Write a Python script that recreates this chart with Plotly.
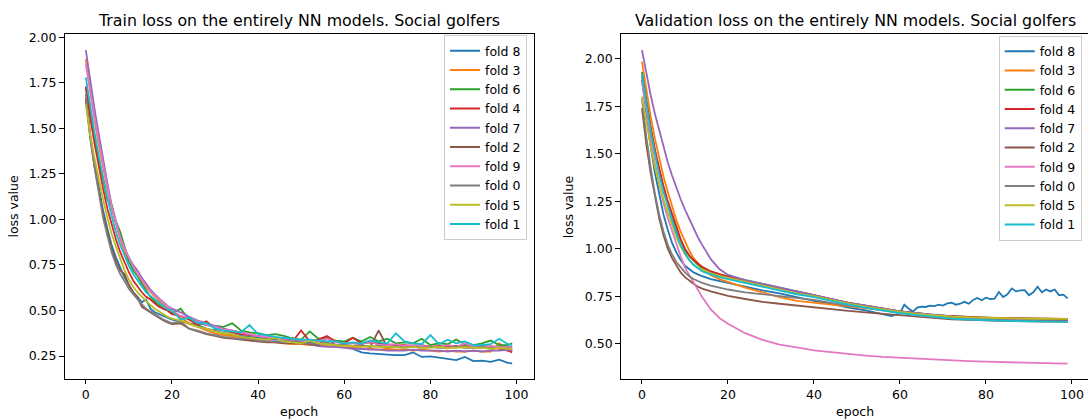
import plotly.graph_objects as go

# ---------------- data ----------------
folds = ["fold 8", "fold 3", "fold 6", "fold 4", "fold 7", "fold 2", "fold 9", "fold 0", "fold 5", "fold 1"]
colors = ["#1f77b4", "#ff7f0e", "#2ca02c", "#d62728", "#9467bd", "#8c564b", "#e377c2", "#7f7f7f", "#bcbd22", "#17becf"]

train_epochs = [0, 1, 2, 3, 4, 5, 6, 7, 8, 9, 10, 11, 12, 13, 14, 15, 16, 17, 18, 19, 20,
                22, 24, 26, 28, 30, 32, 34, 36, 38, 40, 42, 44, 46, 48, 50, 52, 54, 56, 58, 60,
                62, 64, 66, 68, 70, 72, 74, 76, 78, 80, 82, 84, 86, 88, 90, 92, 94, 96, 98, 99]

train_fold8 = [1.67, 1.47, 1.31, 1.17, 1.05, 0.95, 0.86, 0.79, 0.73, 0.68, 0.64, 0.60, 0.575, 0.545, 0.56, 0.51, 0.49, 0.48, 0.47, 0.46, 0.45,
               0.44, 0.43, 0.42, 0.40, 0.39, 0.375, 0.37, 0.36, 0.355, 0.35,
               0.345, 0.34, 0.34, 0.335, 0.33, 0.325, 0.32, 0.315, 0.31, 0.31,
               0.29, 0.27, 0.265, 0.26, 0.258, 0.255, 0.255, 0.27, 0.245, 0.248,
               0.24, 0.232, 0.228, 0.245, 0.222, 0.225, 0.218, 0.23, 0.212, 0.21]
train_fold3 = [1.88, 1.70, 1.55, 1.41, 1.28, 1.17, 1.06, 0.97, 0.89, 0.82, 0.77, 0.73, 0.69, 0.655, 0.625, 0.60, 0.575, 0.55, 0.53, 0.51, 0.50,
               0.46, 0.43, 0.41, 0.39, 0.375, 0.365, 0.36, 0.35, 0.345, 0.34,
               0.335, 0.325, 0.32, 0.315, 0.315, 0.31, 0.31, 0.305, 0.30, 0.30,
               0.295, 0.29, 0.29, 0.285, 0.29, 0.285, 0.285, 0.28, 0.285, 0.28,
               0.275, 0.28, 0.275, 0.275, 0.28, 0.275, 0.275, 0.32, 0.28, 0.275]
train_fold6 = [1.72, 1.58, 1.45, 1.33, 1.21, 1.11, 1.08, 0.99, 0.93, 0.85, 0.77, 0.72, 0.69, 0.645, 0.61, 0.575, 0.55, 0.53, 0.51, 0.50, 0.485,
               0.51, 0.45, 0.43, 0.42, 0.415, 0.41, 0.43, 0.39, 0.38, 0.375,
               0.365, 0.37, 0.36, 0.345, 0.34, 0.385, 0.345, 0.35, 0.335, 0.33,
               0.35, 0.33, 0.355, 0.33, 0.345, 0.32, 0.325, 0.32, 0.345, 0.31,
               0.32, 0.315, 0.34, 0.315, 0.31, 0.32, 0.335, 0.31, 0.31, 0.32]
train_fold4 = [1.73, 1.56, 1.42, 1.29, 1.17, 1.06, 0.97, 0.89, 0.82, 0.76, 0.71, 0.665, 0.63, 0.60, 0.575, 0.56, 0.54, 0.52, 0.51, 0.50, 0.48,
               0.47, 0.45, 0.42, 0.44, 0.40, 0.39, 0.38, 0.37, 0.365, 0.36,
               0.355, 0.35, 0.345, 0.33, 0.39, 0.33, 0.34, 0.36, 0.33, 0.32,
               0.35, 0.32, 0.325, 0.32, 0.315, 0.31, 0.31, 0.305, 0.31, 0.30,
               0.305, 0.30, 0.305, 0.30, 0.30, 0.295, 0.30, 0.29, 0.28, 0.27]
train_fold7 = [1.93, 1.76, 1.61, 1.47, 1.33, 1.20, 1.08, 0.98, 0.90, 0.84, 0.79, 0.75, 0.72, 0.68, 0.645, 0.615, 0.59, 0.565, 0.545, 0.525, 0.51,
               0.49, 0.465, 0.445, 0.43, 0.415, 0.40, 0.39, 0.38, 0.37, 0.36,
               0.35, 0.345, 0.34, 0.335, 0.325, 0.315, 0.305, 0.30, 0.30, 0.295,
               0.29, 0.29, 0.285, 0.285, 0.28, 0.28, 0.28, 0.285, 0.28, 0.28,
               0.28, 0.275, 0.28, 0.275, 0.28, 0.275, 0.28, 0.28, 0.285, 0.28]
train_fold2 = [1.66, 1.45, 1.29, 1.15, 1.03, 0.93, 0.84, 0.77, 0.72, 0.70, 0.64, 0.60, 0.57, 0.52, 0.505, 0.49, 0.475, 0.46, 0.445, 0.435, 0.425,
               0.43, 0.40, 0.385, 0.37, 0.36, 0.35, 0.345, 0.34, 0.335, 0.33,
               0.325, 0.325, 0.32, 0.32, 0.32, 0.315, 0.31, 0.35, 0.31, 0.31,
               0.305, 0.31, 0.30, 0.39, 0.30, 0.305, 0.30, 0.30, 0.30, 0.30,
               0.30, 0.31, 0.30, 0.305, 0.30, 0.31, 0.30, 0.30, 0.295, 0.30]
train_fold9 = [1.85, 1.70, 1.56, 1.43, 1.30, 1.18, 1.07, 0.98, 0.90, 0.84, 0.785, 0.74, 0.70, 0.665, 0.635, 0.605, 0.585, 0.56, 0.54, 0.52, 0.50,
               0.47, 0.46, 0.44, 0.42, 0.41, 0.395, 0.39, 0.38, 0.37, 0.36,
               0.355, 0.35, 0.345, 0.34, 0.335, 0.33, 0.33, 0.345, 0.325, 0.32,
               0.32, 0.315, 0.33, 0.31, 0.31, 0.315, 0.305, 0.31, 0.305, 0.30,
               0.30, 0.31, 0.30, 0.32, 0.30, 0.30, 0.305, 0.30, 0.30, 0.30]
train_fold0 = [1.69, 1.46, 1.29, 1.14, 1.01, 0.91, 0.82, 0.75, 0.70, 0.66, 0.62, 0.59, 0.56, 0.535, 0.51, 0.495, 0.48, 0.465, 0.45, 0.44, 0.43,
               0.44, 0.40, 0.39, 0.375, 0.365, 0.355, 0.35, 0.345, 0.345, 0.335,
               0.33, 0.33, 0.325, 0.35, 0.32, 0.32, 0.315, 0.325, 0.31, 0.31,
               0.305, 0.31, 0.30, 0.305, 0.30, 0.30, 0.295, 0.30, 0.295, 0.30,
               0.295, 0.295, 0.30, 0.295, 0.295, 0.30, 0.29, 0.295, 0.29, 0.29]
train_fold5 = [1.63, 1.47, 1.34, 1.22, 1.11, 1.01, 0.92, 0.85, 0.78, 0.72, 0.67, 0.63, 0.60, 0.575, 0.55, 0.53, 0.51, 0.495, 0.48, 0.465, 0.455,
               0.445, 0.425, 0.41, 0.40, 0.385, 0.375, 0.37, 0.355, 0.35, 0.345,
               0.34, 0.35, 0.33, 0.325, 0.32, 0.335, 0.32, 0.315, 0.31, 0.305,
               0.305, 0.30, 0.305, 0.30, 0.30, 0.30, 0.295, 0.30, 0.295, 0.295,
               0.30, 0.295, 0.295, 0.30, 0.295, 0.295, 0.29, 0.295, 0.29, 0.29]
train_fold1 = [1.78, 1.62, 1.48, 1.35, 1.23, 1.12, 1.02, 0.93, 0.86, 0.80, 0.745, 0.70, 0.665, 0.63, 0.60, 0.58, 0.56, 0.54, 0.52, 0.505, 0.50,
               0.45, 0.46, 0.43, 0.43, 0.40, 0.39, 0.385, 0.38, 0.42, 0.37,
               0.365, 0.355, 0.35, 0.345, 0.34, 0.34, 0.335, 0.33, 0.33, 0.32,
               0.325, 0.32, 0.335, 0.325, 0.32, 0.375, 0.33, 0.32, 0.315, 0.365,
               0.315, 0.34, 0.32, 0.33, 0.31, 0.31, 0.315, 0.345, 0.315, 0.31]

val_epochs = [0, 1, 2, 3, 4, 5, 6, 7, 8, 9, 10, 11, 12, 13, 14, 16, 18, 20,
              24, 28, 32, 36, 40, 44, 48, 52, 56, 60, 64, 68, 72, 76, 80, 84, 88, 92, 96, 99]
val_epochs_fold8 = [0, 1, 2, 3, 4, 5, 6, 7, 8, 9, 10, 11, 12, 13, 14, 16, 18, 20,
                    24, 28, 32, 36, 40, 44, 48, 52, 56, 58, 60,
                    61, 62, 63, 64, 65, 66, 67, 68, 69, 70,
                    71, 72, 73, 74, 75, 76, 77, 78, 79, 80,
                    81, 82, 83, 84, 85, 86, 87, 88, 89, 90,
                    91, 92, 93, 94, 95, 96, 97, 98, 99]

val_fold8 = [1.89, 1.70, 1.54, 1.40, 1.28, 1.18, 1.10, 1.03, 0.98, 0.94, 0.91, 0.89, 0.875, 0.865, 0.855, 0.84, 0.83, 0.82,
             0.80, 0.78, 0.765, 0.745, 0.725, 0.71, 0.69, 0.675, 0.655, 0.645, 0.66,
             0.705, 0.685, 0.668, 0.69, 0.695, 0.693, 0.70, 0.698, 0.705, 0.70,
             0.712, 0.715, 0.705, 0.71, 0.72, 0.71, 0.73, 0.74, 0.728, 0.742,
             0.735, 0.737, 0.772, 0.745, 0.76, 0.79, 0.775, 0.78, 0.782, 0.755,
             0.77, 0.80, 0.77, 0.785, 0.775, 0.785, 0.755, 0.758, 0.738]
val_fold3 = [1.985, 1.83, 1.70, 1.58, 1.48, 1.38, 1.30, 1.22, 1.15, 1.09, 1.04, 0.99, 0.95, 0.92, 0.895, 0.86, 0.84, 0.825,
             0.795, 0.77, 0.745, 0.725, 0.715, 0.705, 0.695, 0.685, 0.675, 0.665, 0.655, 0.647, 0.64, 0.635, 0.632, 0.63, 0.628, 0.627, 0.626, 0.625]
val_fold6 = [1.93, 1.78, 1.64, 1.52, 1.41, 1.32, 1.24, 1.17, 1.10, 1.04, 0.99, 0.96, 0.935, 0.915, 0.90, 0.88, 0.865, 0.855,
             0.835, 0.815, 0.795, 0.775, 0.755, 0.735, 0.715, 0.70, 0.685, 0.67, 0.66, 0.65, 0.645, 0.64, 0.636, 0.633, 0.631, 0.63, 0.629, 0.628]
val_fold4 = [1.91, 1.77, 1.64, 1.52, 1.42, 1.33, 1.25, 1.18, 1.11, 1.05, 1.00, 0.965, 0.94, 0.92, 0.905, 0.88, 0.865, 0.852,
             0.83, 0.81, 0.79, 0.775, 0.755, 0.735, 0.715, 0.70, 0.685, 0.67, 0.66, 0.65, 0.645, 0.64, 0.637, 0.635, 0.633, 0.632, 0.632, 0.63]
val_fold7 = [2.045, 1.92, 1.81, 1.71, 1.62, 1.535, 1.455, 1.385, 1.32, 1.26, 1.205, 1.155, 1.105, 1.06, 1.02, 0.945, 0.893, 0.862,
             0.835, 0.815, 0.795, 0.775, 0.755, 0.735, 0.715, 0.70, 0.685, 0.67, 0.66, 0.65, 0.643, 0.637, 0.632, 0.628, 0.625, 0.623, 0.622, 0.62]
val_fold2 = [1.74, 1.55, 1.40, 1.27, 1.16, 1.07, 1.00, 0.95, 0.91, 0.875, 0.85, 0.83, 0.815, 0.80, 0.79, 0.775, 0.762, 0.752,
             0.735, 0.72, 0.71, 0.70, 0.69, 0.68, 0.672, 0.665, 0.658, 0.65, 0.643, 0.635, 0.628, 0.625, 0.622, 0.62, 0.619, 0.618, 0.617, 0.617]
val_fold9 = [1.88, 1.72, 1.58, 1.45, 1.34, 1.24, 1.16, 1.09, 1.02, 0.96, 0.90, 0.86, 0.82, 0.78, 0.745, 0.68, 0.635, 0.605,
             0.555, 0.52, 0.495, 0.48, 0.465, 0.455, 0.445, 0.437, 0.43, 0.425, 0.42, 0.415, 0.412, 0.408, 0.405, 0.402, 0.40, 0.398, 0.396, 0.395]
val_fold0 = [1.79, 1.59, 1.43, 1.29, 1.18, 1.09, 1.02, 0.97, 0.93, 0.90, 0.875, 0.855, 0.84, 0.83, 0.82, 0.805, 0.795, 0.785,
             0.77, 0.76, 0.75, 0.74, 0.73, 0.715, 0.70, 0.69, 0.675, 0.665, 0.65, 0.64, 0.633, 0.627, 0.623, 0.62, 0.618, 0.617, 0.616, 0.615]
val_fold5 = [1.80, 1.66, 1.54, 1.43, 1.34, 1.26, 1.19, 1.12, 1.06, 1.01, 0.97, 0.94, 0.915, 0.90, 0.89, 0.87, 0.857, 0.847,
             0.825, 0.805, 0.785, 0.765, 0.75, 0.73, 0.71, 0.695, 0.68, 0.667, 0.656, 0.648, 0.642, 0.638, 0.635, 0.633, 0.632, 0.631, 0.631, 0.63]
val_fold1 = [1.915, 1.76, 1.62, 1.50, 1.39, 1.30, 1.22, 1.15, 1.08, 1.02, 0.975, 0.94, 0.915, 0.895, 0.88, 0.865, 0.85, 0.84,
             0.82, 0.80, 0.78, 0.76, 0.745, 0.725, 0.705, 0.69, 0.675, 0.66, 0.65, 0.64, 0.632, 0.627, 0.623, 0.62, 0.618, 0.617, 0.616, 0.615]

y_ticks_train = [0.25, 0.50, 0.75, 1.00, 1.25, 1.50, 1.75, 2.00]
y_ticks_val = [0.50, 0.75, 1.00, 1.25, 1.50, 1.75, 2.00]
x_ticks = [0, 20, 40, 60, 80, 100]

train_series = [train_fold8, train_fold3, train_fold6, train_fold4, train_fold7,
                train_fold2, train_fold9, train_fold0, train_fold5, train_fold1]
val_series = [val_fold8, val_fold3, val_fold6, val_fold4, val_fold7,
              val_fold2, val_fold9, val_fold0, val_fold5, val_fold1]
val_x = [val_epochs_fold8] + [val_epochs] * 9

for s in train_series:
    assert len(s) == len(train_epochs), len(s)
for xs, s in zip(val_x, val_series):
    assert len(s) == len(xs), (len(s), len(xs))

# ---------------- figure ----------------
W, H = 1088, 420
FONT = "DejaVu Sans"
fig = go.Figure()

for name, col, ys in zip(folds, colors, train_series):
    fig.add_trace(go.Scatter(x=train_epochs, y=ys, mode="lines", name=name,
                             line=dict(color=col, width=1.8), xaxis="x", yaxis="y",
                             legend="legend"))
for name, col, xs, ys in zip(folds, colors, val_x, val_series):
    fig.add_trace(go.Scatter(x=xs, y=ys, mode="lines", name=name,
                             line=dict(color=col, width=1.8), xaxis="x2", yaxis="y2",
                             legend="legend2"))

def px_x(p):
    return p / W

def px_y(p):
    return 1 - p / H

top, bottom = 29.7, 378.3
L1, R1 = 64.5, 533.5
L2, R2 = 620.7, 1089.6

axis_common = dict(showgrid=False, zeroline=False, showline=True, linecolor="black", linewidth=1,
                   ticks="outside", ticklen=4.5, tickwidth=1, tickcolor="black",
                   tickfont=dict(family=FONT, size=12.5, color="black"))

legend_common = dict(xanchor="right", yanchor="top",
                     bgcolor="rgba(255,255,255,0.8)", bordercolor="#cccccc", borderwidth=1,
                     font=dict(family=FONT, size=12.5, color="black"))

fig.update_layout(
    width=W, height=H, margin=dict(l=0, r=0, t=0, b=0),
    paper_bgcolor="white", plot_bgcolor="white",
    font=dict(family=FONT, color="black"),
    xaxis=dict(domain=[px_x(L1), px_x(R1)], range=[-4.95, 103.95], anchor="y", mirror=True,
               tickvals=x_ticks, **axis_common),
    yaxis=dict(domain=[px_y(bottom), px_y(top)], range=[0.125, 2.016], anchor="x", mirror=True,
               tickvals=y_ticks_train, tickformat=".2f", **axis_common),
    xaxis2=dict(domain=[px_x(L2), 1.0], range=[-4.95, 103.73], anchor="y2", mirror=True,
                tickvals=x_ticks, **axis_common),
    yaxis2=dict(domain=[px_y(bottom), px_y(top)], range=[0.315, 2.128], anchor="x2", mirror=False,
                tickvals=y_ticks_val, tickformat=".2f", **axis_common),
    legend=dict(x=px_x(527), y=px_y(30.5), **legend_common),
    legend2=dict(x=px_x(1081.7), y=px_y(31), **legend_common),
    showlegend=True,
)

ann = []
ann.append(dict(text="Train loss on the entirely NN models. Social golfers", x=px_x((L1 + R1) / 2), y=px_y(15.5),
                xref="paper", yref="paper", xanchor="center", yanchor="middle", showarrow=False,
                font=dict(family=FONT, size=15.8, color="black")))
ann.append(dict(text="Validation loss on the entirely NN models. Social golfers", x=px_x((L2 + R2) / 2), y=px_y(15.5),
                xref="paper", yref="paper", xanchor="center", yanchor="middle", showarrow=False,
                font=dict(family=FONT, size=15.8, color="black")))
for cx in [(L1 + R1) / 2, (L2 + R2) / 2]:
    ann.append(dict(text="epoch", x=px_x(cx), y=px_y(411), xref="paper", yref="paper",
                    xanchor="center", yanchor="middle", showarrow=False,
                    font=dict(family=FONT, size=12.5, color="black")))
for cx in [14, 568.6]:
    ann.append(dict(text="loss value", x=px_x(cx), y=px_y((top + bottom) / 2), xref="paper", yref="paper",
                    xanchor="center", yanchor="middle", showarrow=False, textangle=-90,
                    font=dict(family=FONT, size=12.5, color="black")))
fig.update_layout(annotations=ann)

fig.write_html("out.html")
